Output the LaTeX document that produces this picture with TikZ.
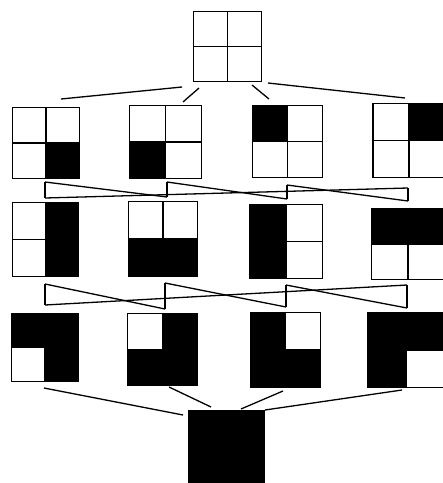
\documentclass[tikz,border=0pt]{standalone}
\begin{document}
\begin{tikzpicture}[x=1pt,y=-1pt,
  cells/.style n args={4}{draw, line width=1.8pt, inner sep=0pt, outer sep=0pt,
    path picture={
      \path (path picture bounding box.north west) coordinate (pnw)
            (path picture bounding box.south east) coordinate (pse)
            (path picture bounding box.center) coordinate (pc);
      \ifnum#1=1 \fill (pnw) rectangle (pc);\fi
      \ifnum#2=1 \fill (pc |- pnw) rectangle (pse |- pc);\fi
      \ifnum#3=1 \fill (pnw |- pc) rectangle (pc |- pse);\fi
      \ifnum#4=1 \fill (pc) rectangle (pse);\fi
      \draw[line width=1.6pt] (pc |- pnw) -- (pc |- pse);
      \draw[line width=1.6pt] (pnw |- pc) -- (pse |- pc);
    }},
  conn/.style={line width=1.3pt}]
\useasboundingbox[fill=white] (0,0) rectangle (443,483);

% top
\node[cells={0}{0}{0}{0}, minimum width=68pt, minimum height=70pt] (T) at (227.5,46.5) {};
% row 1
\node[cells={0}{0}{0}{1}, minimum width=67pt, minimum height=71pt] (A) at (46,143) {};
\node[cells={0}{0}{1}{0}, minimum width=72pt, minimum height=73pt] (B) at (165.5,142) {};
\node[cells={1}{0}{0}{0}, minimum width=70pt, minimum height=72pt] (C) at (287.5,141.5) {};
\node[cells={0}{1}{0}{0}, minimum width=72pt, minimum height=74pt] (D) at (409,140.5) {};
% row 2
\node[cells={0}{1}{0}{1}, minimum width=66pt, minimum height=74pt] (E) at (45.5,239.5) {};
\node[cells={0}{0}{1}{1}, minimum width=69pt, minimum height=75pt] (F) at (163,239) {};
\node[cells={1}{0}{1}{0}, minimum width=73pt, minimum height=74pt] (G) at (286,241.5) {};
\node[cells={1}{1}{0}{0}, minimum width=73pt, minimum height=71pt] (H) at (408,244) {};
% row 3
\node[cells={1}{1}{0}{1}, minimum width=67pt, minimum height=68pt] (I) at (45,347.5) {};
\node[cells={0}{1}{1}{1}, minimum width=70pt, minimum height=72pt] (J) at (162.5,349.5) {};
\node[cells={1}{0}{1}{1}, minimum width=70pt, minimum height=75pt] (K) at (285.5,350) {};
\node[cells={1}{1}{1}{0}, minimum width=77pt, minimum height=75pt] (L) at (406.5,350) {};
% bottom
\node[draw, fill=black, line width=1.8pt, inner sep=0pt, minimum width=76pt, minimum height=76pt] (Z) at (226.5,449) {};

% connectors top -> row 1
\coordinate (tA) at (182,87);  \coordinate (aT) at (61,99);
\coordinate (tB) at (199,88);  \coordinate (bT) at (183,102);
\coordinate (tC) at (252,85);  \coordinate (cT) at (269,99);
\coordinate (tD) at (268,83);  \coordinate (dT) at (405,98);
\draw[conn] (tA) -- (aT);
\draw[conn] (tB) -- (bT);
\draw[conn] (tC) -- (cT);
\draw[conn] (tD) -- (dT);

% row 1 -> row 2
\coordinate (aD) at (45,182);  \coordinate (eU) at (45,198);
\coordinate (bD) at (167,182); \coordinate (fU) at (167,197);
\coordinate (cD) at (287,185); \coordinate (gU) at (287,199);
\coordinate (dD) at (408,188); \coordinate (hU) at (408,201);
\draw[conn] (aD) -- (eU);
\draw[conn] (aD) -- (fU);
\draw[conn] (bD) -- (fU);
\draw[conn] (bD) -- (gU);
\draw[conn] (cD) -- (gU);
\draw[conn] (cD) -- (hU);
\draw[conn] (dD) -- (hU);
\draw[conn] (dD) -- (eU);

% row 2 -> row 3
\coordinate (eD) at (45,284);  \coordinate (iU) at (45,305);
\coordinate (fD) at (165,283); \coordinate (jU) at (165,309);
\coordinate (gD) at (286,285); \coordinate (kU) at (286,307);
\coordinate (hD) at (407,285); \coordinate (lU) at (407,308);
\draw[conn] (eD) -- (iU);
\draw[conn] (eD) -- (jU);
\draw[conn] (fD) -- (jU);
\draw[conn] (fD) -- (kU);
\draw[conn] (gD) -- (kU);
\draw[conn] (gD) -- (lU);
\draw[conn] (hD) -- (lU);
\draw[conn] (hD) -- (iU);

% row 3 -> bottom
\coordinate (iZ) at (44,388);  \coordinate (zI) at (183,415);
\coordinate (jZ) at (169,387); \coordinate (zJ) at (211,407);
\coordinate (kZ) at (283,391); \coordinate (zK) at (241,409);
\coordinate (lZ) at (402,390); \coordinate (zL) at (265,410);
\draw[conn] (iZ) -- (zI);
\draw[conn] (jZ) -- (zJ);
\draw[conn] (kZ) -- (zK);
\draw[conn] (lZ) -- (zL);
\end{tikzpicture}
\end{document}
